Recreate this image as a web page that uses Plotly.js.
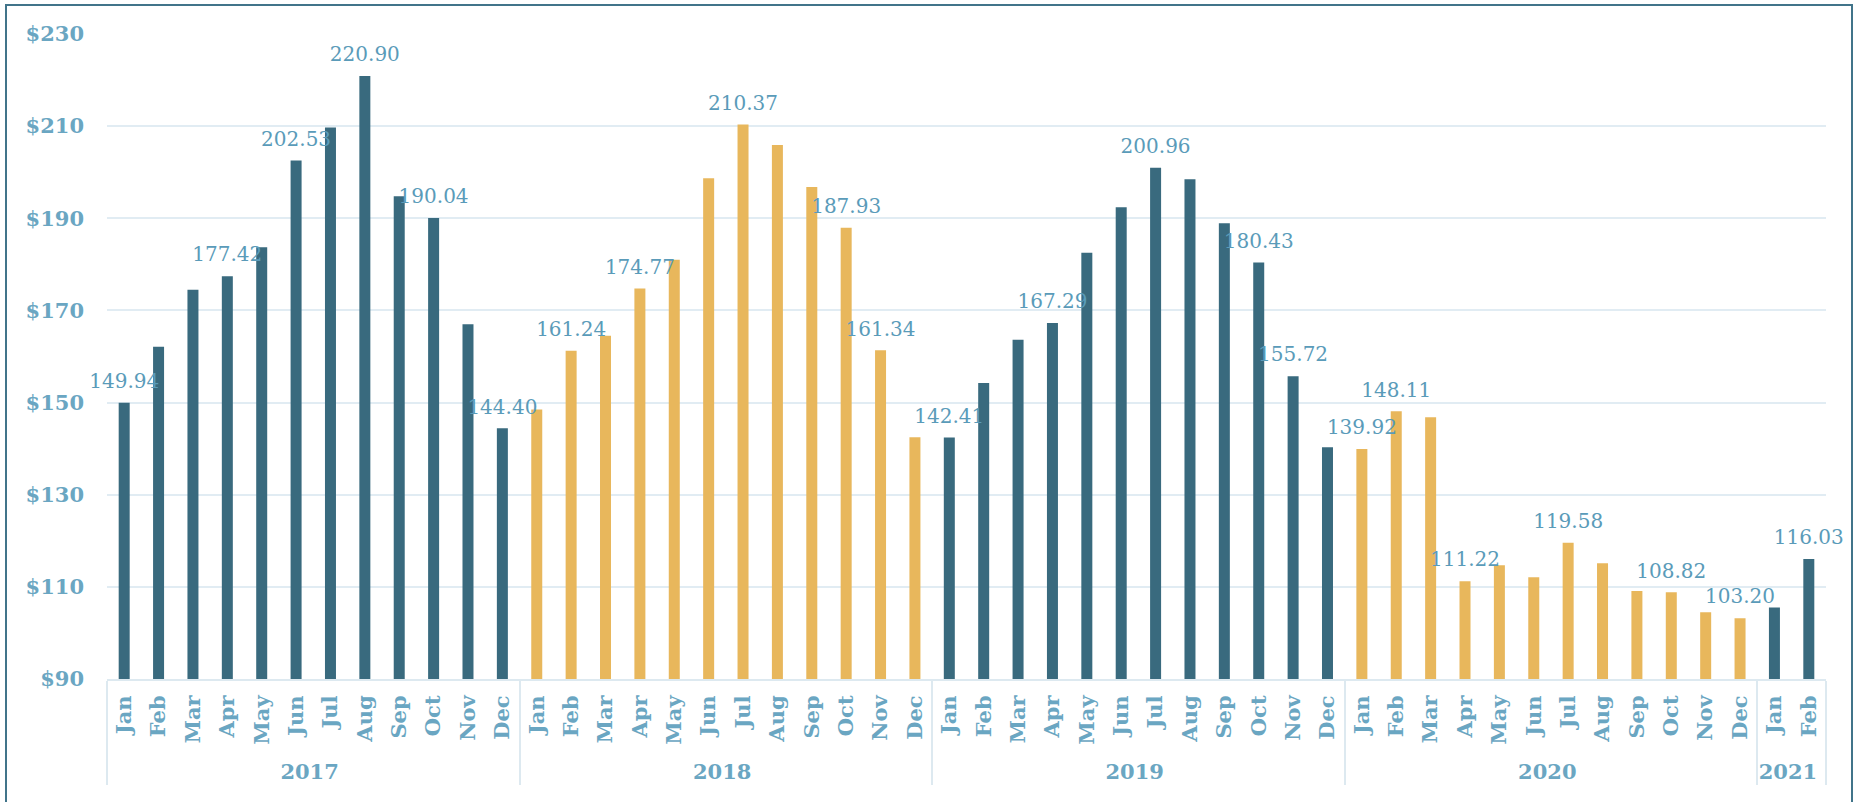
<!DOCTYPE html>
<html>
<head>
<meta charset="utf-8">
<script src="https://cdn.plot.ly/plotly-3.0.1.min.js"></script>
<style>
  html, body { margin: 0; padding: 0; background: #ffffff; overflow: hidden; }
  #chart { position: absolute; left: 0; top: 0; width: 1857px; height: 802px; }
  #frame { position: absolute; left: 5px; top: 4px; width: 1848px; height: 900px;
           border: 2px solid #41748a; pointer-events: none; box-sizing: border-box; }
</style>
</head>
<body>
<div id="chart"></div>
<div id="frame"></div>
<script>
// ---- data ----
const years = [
  "2017","2017","2017","2017","2017","2017","2017","2017","2017","2017","2017","2017",
  "2018","2018","2018","2018","2018","2018","2018","2018","2018","2018","2018","2018",
  "2019","2019","2019","2019","2019","2019","2019","2019","2019","2019","2019","2019",
  "2020","2020","2020","2020","2020","2020","2020","2020","2020","2020","2020","2020",
  "2021","2021"
];
const months = [
  "Jan","Feb","Mar","Apr","May","Jun","Jul","Aug","Sep","Oct","Nov","Dec",
  "Jan","Feb","Mar","Apr","May","Jun","Jul","Aug","Sep","Oct","Nov","Dec",
  "Jan","Feb","Mar","Apr","May","Jun","Jul","Aug","Sep","Oct","Nov","Dec",
  "Jan","Feb","Mar","Apr","May","Jun","Jul","Aug","Sep","Oct","Nov","Dec",
  "Jan","Feb"
];
const prices = [
  149.94, 162.1, 174.5, 177.42, 183.7, 202.53, 209.7, 220.90, 194.8, 190.04, 167.0, 144.40,
  148.5, 161.24, 164.5, 174.77, 181.0, 198.7, 210.37, 205.9, 196.8, 187.93, 161.34, 142.5,
  142.41, 154.25, 163.65, 167.29, 182.5, 192.4, 200.96, 198.5, 188.9, 180.43, 155.72, 140.3,
  139.92, 148.11, 146.8, 111.22, 114.7, 112.1, 119.58, 115.1, 109.1, 108.82, 104.5, 103.20,
  105.5, 116.03
];
// which bars carry a value label
const labelled = [
  1,0,0,1,0,1,0,1,0,1,0,1,
  0,1,0,1,0,0,1,0,0,1,1,0,
  1,0,0,1,0,0,1,0,0,1,1,0,
  1,1,0,1,0,0,1,0,0,1,0,1,
  0,1
];
const yearColors = { "2017": "#396a7e", "2018": "#e8b75c", "2019": "#396a7e", "2020": "#e8b75c", "2021": "#396a7e" };

const barColors = years.map(y => yearColors[y]);
const labelText = prices.map((v, i) => labelled[i] ? v.toFixed(2) : "");

const serif = "Georgia, 'DejaVu Serif', serif";

const traces = [
  {
    type: "bar",
    x: [years, months],
    y: prices,
    marker: { color: barColors },
    hoverinfo: "skip",
    showlegend: false
  },
  {
    type: "scatter",
    mode: "markers+text",
    x: [years, months],
    y: prices,
    text: labelText,
    textposition: "top center",
    marker: { size: 14, color: "rgba(0,0,0,0)" },
    textfont: { family: serif, size: 20, color: "#5a9bb9" },
    cliponaxis: false,
    hoverinfo: "skip",
    showlegend: false
  }
];

const layout = {
  width: 1857,
  height: 802,
  margin: { l: 107, r: 31, t: 34, b: 123 },
  paper_bgcolor: "rgba(0,0,0,0)",
  plot_bgcolor: "#ffffff",
  bargap: 0.68,
  showlegend: false,
  xaxis: {
    type: "multicategory",
    range: [-0.5, prices.length - 0.5],
    autorange: false,
    tickangle: -90,
    tickfont: { family: serif, size: 21, color: "#6aa6c2", weight: "bold" },
    showline: true,
    linecolor: "#dde9f0",
    linewidth: 2,
    showgrid: false,
    ticks: "",
    ticklabelstandoff: 6,
    showdividers: true,
    dividercolor: "#dde9f0",
    dividerwidth: 2
  },
  yaxis: {
    range: [90, 230],
    dtick: 20,
    tick0: 90,
    tickprefix: "$",
    tickfont: { family: serif, size: 21, color: "#6aa6c2", weight: "bold" },
    showgrid: true,
    gridcolor: "#e1ecf3",
    gridwidth: 2,
    zeroline: false,
    showline: false,
    ticks: "",
    ticklabelstandoff: 22
  }
};

Plotly.newPlot("chart", traces, layout, { displayModeBar: false, staticPlot: true });
</script>
</body>
</html>
